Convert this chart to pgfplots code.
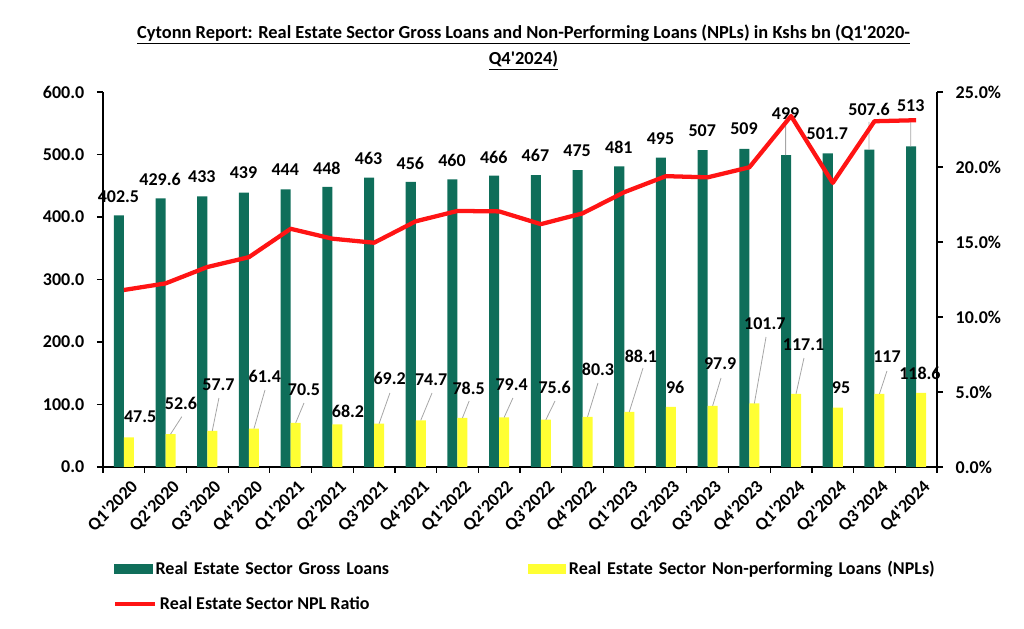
\documentclass[border=0pt]{standalone}
\usepackage{pgfplots}
\pgfplotsset{compat=1.18}
\usepackage{fontspec}
\setmainfont{Carlito}[Ligatures=TeXOff]
\definecolor{cgreen}{RGB}{15,110,90}
\definecolor{cyellow}{RGB}{255,255,51}
\definecolor{cred}{RGB}{255,20,20}
\definecolor{cgray}{RGB}{166,166,166}
\newcommand{\lblfont}{\bfseries\fontsize{13.5}{14}\selectfont}
\begin{document}
\begin{tikzpicture}
\useasboundingbox (0,0) rectangle (768pt,471pt);
\node[font=\bfseries\fontsize{13.8}{20}\selectfont, align=center] at (392.6pt,435.4pt)
 {\underline{Cytonn Report: Real Estate Sector Gross Loans and Non-Performing Loans (NPLs) in Kshs bn (Q1'2020-}\\\underline{Q4'2024)}};
\begin{axis}[
  at={(77.25pt,120.75pt)}, anchor=south west,
  scale only axis, width=625.5pt, height=281.25pt,
  xmin=-0.5, xmax=19.5, ymin=0, ymax=600,
  clip=false,
  axis y line*=left, axis x line*=bottom,
  axis line style={black, line width=0.9pt},
  every tick/.style={black, line width=0.9pt},
  tick align=outside,
  major tick length=4.5pt, minor tick length=4.5pt,
  ytick={0,100,...,600},
  /pgf/number format/assume math mode=true,
  yticklabel={\pgfmathprintnumber[fixed,fixed zerofill,precision=1]{\tick}},
  xtick={0,...,19},
  xticklabels={Q1'2020,Q2'2020,Q3'2020,Q4'2020,Q1'2021,Q2'2021,Q3'2021,Q4'2021,Q1'2022,Q2'2022,Q3'2022,Q4'2022,Q1'2023,Q2'2023,Q3'2023,Q4'2023,Q1'2024,Q2'2024,Q3'2024,Q4'2024},
  major x tick style={draw=none},
  minor xtick={-0.5,0.5,...,19.5},
  tick label style={font=\lblfont},
  yticklabel style={xshift=-6pt},
  xticklabel style={rotate=45, anchor=east, inner sep=1pt, yshift=-12pt, xshift=1pt},
  legend columns=2,
  legend style={at={(0.0132,-0.272)}, anchor=west, draw=none, fill=none, inner sep=0pt,
    font=\bfseries\fontsize{13.5}{15}\selectfont,
    nodes={text width=277pt, align=left}},
]
\addplot[ybar, bar width=0.24, bar shift=-0.12, fill=cgreen, draw=none,
  legend image code/.code={\fill[cgreen] (0pt,-3.75pt) rectangle (29pt,3.75pt);}]
  coordinates {(0,402.5) (1,429.6) (2,433) (3,439) (4,444) (5,448) (6,463) (7,456) (8,460) (9,466)
   (10,467) (11,475) (12,481) (13,495) (14,507) (15,509) (16,499) (17,501.7) (18,507.6) (19,513)};
\addlegendentry{Real Estate Sector Gross Loans}
\addplot[ybar, bar width=0.24, bar shift=0.12, fill=cyellow, draw=none,
  legend image code/.code={\fill[cyellow] (0pt,-3.75pt) rectangle (29pt,3.75pt);}]
  coordinates {(0,47.5) (1,52.6) (2,57.7) (3,61.4) (4,70.5) (5,68.2) (6,69.2) (7,74.7) (8,78.5) (9,79.4)
   (10,75.6) (11,80.3) (12,88.1) (13,96) (14,97.9) (15,101.7) (16,117.1) (17,95) (18,117) (19,118.6)};
\addlegendentry{Real Estate Sector Non-performing Loans (NPLs)}
% leader lines
\addplot[cgray, line width=0.6pt, unbounded coords=jump, forget plot] coordinates {
 (1.12,52.6) (1.39,80.5) (0,nan)
 (2.12,57.7) (2.28,110.4) (0,nan)
 (3.12,61.4) (3.385,123.2) (0,nan)
 (4.12,70.5) (4.32,102.4) (0,nan)
 (6.12,69.2) (6.38,118.4) (0,nan)
 (7.12,74.7) (7.39,118.4) (0,nan)
 (8.12,78.5) (8.28,105.6) (0,nan)
 (9.12,79.4) (9.33,110.4) (0,nan)
 (10.12,75.6) (10.34,105.6) (0,nan)
 (11.12,80.3) (11.37,134.4) (0,nan)
 (12.12,88.1) (12.45,158.4) (0,nan)
 (14.12,97.9) (14.32,142.4) (0,nan)
 (15.12,101.7) (15.4,208) (0,nan)
 (16.12,117.1) (16.31,174.4) (0,nan)
 (18.12,117) (18.3,153.6) (0,nan)
 (15.87,499) (15.87,553.6) (0,nan)
 (17.87,507.6) (17.87,552) (0,nan)
 (18.87,513) (18.87,552)
};
% green labels
\addplot[draw=none, forget plot, nodes near coords, point meta=explicit symbolic,
  nodes near coords style={anchor=center, font=\lblfont, text=black, inner sep=0pt}]
  table[meta=lbl] {
x y lbl
-0.13 432 402.5
0.87 460.8 429.6
1.87 464 433
2.87 470.4 439
3.87 475.2 444
4.87 478.4 448
5.87 494.4 463
6.87 486.4 456
7.87 491.2 460
8.87 496 466
9.87 499.2 467
10.87 505.6 475
11.87 512 481
12.87 524.8 495
13.87 537.6 507
14.87 540.8 509
15.87 564.8 499
16.87 532.8 501.7
17.87 572.8 507.6
18.87 577.6 513
};
% yellow labels
\addplot[draw=none, forget plot, nodes near coords, point meta=explicit symbolic,
  nodes near coords style={anchor=center, font=\lblfont, text=black, inner sep=0pt}]
  table[meta=lbl] {
x y lbl
0.39 80 47.5
1.37 102.4 52.6
2.27 131.2 57.7
3.38 145.6 61.4
4.32 123.2 70.5
5.375 89.6 68.2
6.375 142.4 69.2
7.37 139.2 74.7
8.27 126.4 78.5
9.3 131.2 79.4
10.33 128 75.6
11.37 156.8 80.3
12.4 177.6 88.1
13.22 128 96
14.3 164.8 97.9
15.37 228.8 101.7
16.3 195.2 117.1
17.2 126.4 95
18.3 176 117
19.09 150.4 118.6
};
\end{axis}
\begin{axis}[
  at={(77.25pt,120.75pt)}, anchor=south west,
  scale only axis, width=625.5pt, height=281.25pt,
  xmin=-0.5, xmax=19.5, ymin=0, ymax=25,
  clip=false,
  axis y line*=right, axis x line=none,
  axis line style={black, line width=0.9pt},
  every tick/.style={black, line width=0.9pt},
  tick align=outside,
  major tick length=4.5pt,
  ytick={0,5,...,25},
  /pgf/number format/assume math mode=true,
  yticklabel={\pgfmathprintnumber[fixed,fixed zerofill,precision=1]{\tick}\%},
  tick label style={font=\lblfont},
  yticklabel style={xshift=6pt},
  legend style={at={(0.012,-0.3653)}, anchor=west, draw=none, fill=none, inner sep=0pt,
    font=\bfseries\fontsize{13.5}{15}\selectfont},
]
\addplot[cred, line width=3.2pt, line join=round,
  legend image code/.code={\draw[cred, line width=3pt] (0pt,0pt) -- (30pt,0pt);}]
  coordinates {(0,11.80) (1,12.24) (2,13.33) (3,13.99) (4,15.88) (5,15.22) (6,14.95) (7,16.38) (8,17.07) (9,17.04)
   (10,16.19) (11,16.91) (12,18.32) (13,19.39) (14,19.31) (15,19.98) (16,23.40) (17,18.94) (18,23.05) (19,23.12)};
\addlegendentry{Real Estate Sector NPL Ratio}
\end{axis}
\end{tikzpicture}
\end{document}
